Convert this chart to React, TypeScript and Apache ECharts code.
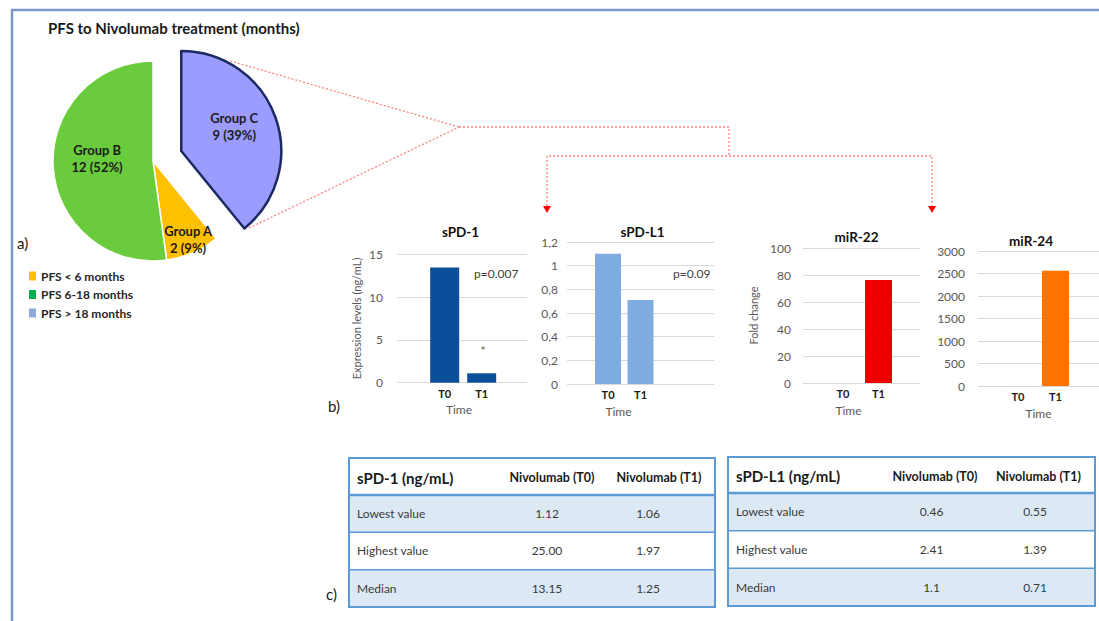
import { useEffect, useRef } from 'react';
import * as echarts from 'echarts';

// ---- Panel a): PFS groups, listed in drawing order (clockwise from 12 o'clock)
const pfsClasses = ['PFS > 18 months', 'PFS < 6 months', 'PFS 6-18 months'];
const groupNames = ['Group C', 'Group A', 'Group B'];
const patientCounts = [9, 2, 12];
const legendOrder = ['PFS < 6 months', 'PFS 6-18 months', 'PFS > 18 months'];

// ---- Panel b): bar charts
const timePoints = ['T0', 'T1'];
const spd1Levels = [13.45, 1.1];
const spdl1Levels = [1.1, 0.71];
const mir22Fold = [0, 76.3];
const mir24Fold = [1, 2560];

// ---- Panel c): summary tables
const statRows = ['Lowest value', 'Highest value', 'Median'];
const tableCols = ['Nivolumab (T0)', 'Nivolumab (T1)'];
const spd1T0 = ['1.12', '25.00', '13.15'];
const spd1T1 = ['1.06', '1.97', '1.25'];
const spdl1T0 = ['0.46', '2.41', '1.1'];
const spdl1T1 = ['0.55', '1.39', '0.71'];

const FONT = 'Lato, "Open Sans", "DejaVu Sans", sans-serif';
const pieColors = ['#9b9cfd', '#ffc000', '#6acb3c'];
const legendColors = ['#ffc000', '#00b050', '#8eaadb'];
const pieLabelShift = [[3, -7], [14, 30], [-3, -6]];
const AXIS_GREY = '#595959';
const GRID_LINE = '#d9d9d9';

function txt(x: number, y: number, text: string, o: any = {}) {
  return {
    type: 'text',
    x,
    y,
    silent: true,
    style: {
      text,
      fontFamily: FONT,
      fontSize: o.size ?? 12,
      fontWeight: o.weight ?? 'normal',
      fill: o.fill ?? '#262626',
      align: o.align ?? 'left',
      verticalAlign: 'middle',
    },
  };
}

function dashed(points: number[][]) {
  return {
    type: 'polyline',
    silent: true,
    shape: { points },
    style: { stroke: '#ff8080', lineWidth: 1.3, lineDash: [2, 2], fill: 'none' },
  };
}

function arrowHead(x: number, y: number) {
  return {
    type: 'polygon',
    silent: true,
    shape: { points: [[x - 4, y - 7], [x + 4, y - 7], [x, y]] },
    style: { fill: '#ff0000' },
  };
}

function buildTable(
  x0: number,
  y0: number,
  w: number,
  hh: number,
  rh: number,
  headX: number[],
  valX: number[],
  title: string,
  t0: string[],
  t1: string[]
) {
  const blue = '#5b9bd5';
  const els: any[] = [];
  els.push({ type: 'rect', silent: true, shape: { x: x0, y: y0, width: w, height: hh }, style: { fill: '#ffffff' } });
  statRows.forEach((r, i) => {
    const y = y0 + hh + i * rh;
    els.push({
      type: 'rect',
      silent: true,
      shape: { x: x0, y, width: w, height: rh },
      style: { fill: i % 2 === 0 ? '#dce9f5' : '#ffffff' },
    });
    els.push({
      type: 'line',
      silent: true,
      shape: { x1: x0, y1: y, x2: x0 + w, y2: y },
      style: { stroke: blue, lineWidth: i === 0 ? 2.5 : 1.5 },
    });
    els.push(txt(x0 + 8, y + rh / 2, r, { size: 12, fill: '#3a3a3a' }));
    els.push(txt(valX[0], y + rh / 2, t0[i], { size: 12, fill: '#3a3a3a', align: 'center' }));
    els.push(txt(valX[1], y + rh / 2, t1[i], { size: 12, fill: '#3a3a3a', align: 'center' }));
  });
  els.push({
    type: 'rect',
    silent: true,
    shape: { x: x0, y: y0, width: w, height: hh + 3 * rh },
    style: { fill: 'none', stroke: blue, lineWidth: 2 },
  });
  els.push(txt(x0 + 8, y0 + hh / 2 + 1, title, { size: 15, weight: 'bold', fill: '#1a1a1a' }));
  els.push(txt(headX[0], y0 + hh / 2 + 1, tableCols[0], { size: 12.5, weight: 'bold', fill: '#1a1a1a', align: 'center' }));
  els.push(txt(headX[1], y0 + hh / 2 + 1, tableCols[1], { size: 12.5, weight: 'bold', fill: '#1a1a1a', align: 'center' }));
  return els;
}

type PanelCfg = {
  values: number[];
  color: string;
  barWidth: number;
  xRange: [number, number];
  yMax: number;
  yStep: number;
  labelMargin: number;
  timeShift: number;
  yName?: string;
  yNameGap?: number;
  yFormatter?: (v: number) => string;
};

const panelCfgs: PanelCfg[] = [
  {
    values: spd1Levels,
    color: '#0b4f9b',
    barWidth: 29,
    xRange: [-1.289, 2.225],
    yMax: 15,
    yStep: 5,
    labelMargin: 14,
    timeShift: -3,
    yName: 'Expression levels (ng/mL)',
    yNameGap: 35,
  },
  {
    values: spdl1Levels,
    color: '#7eabe0',
    barWidth: 26,
    xRange: [-1.262, 3.261],
    yMax: 1.2,
    yStep: 0.2,
    labelMargin: 9,
    timeShift: -22,
    yFormatter: (v: number) => String(Math.round(v * 10) / 10).replace('.', ','),
  },
  {
    values: mir22Fold,
    color: '#ee0000',
    barWidth: 27,
    xRange: [-1.127, 2.169],
    yMax: 100,
    yStep: 20,
    labelMargin: 12,
    timeShift: -13,
    yName: 'Fold change',
    yNameGap: 44,
  },
  {
    values: mir24Fold,
    color: '#ff7300',
    barWidth: 27,
    xRange: [-1.067, 2.16],
    yMax: 3000,
    yStep: 500,
    labelMargin: 13,
    timeShift: 0,
  },
];

const gridBoxes = [
  { left: 397, top: 254.3, width: 130, height: 128.4 },
  { left: 567, top: 242, width: 147, height: 142 },
  { left: 803, top: 248, width: 117, height: 135 },
  { left: 978, top: 251, width: 121, height: 135 },
];

export default function App() {
  const ref = useRef<HTMLDivElement>(null);

  useEffect(() => {
    if (!ref.current) return;
    const chart = echarts.init(ref.current, undefined, { renderer: 'svg' });

    const xAxes = panelCfgs.map((p, i) => ({
      type: 'value',
      gridIndex: i,
      min: p.xRange[0],
      max: p.xRange[1],
      splitLine: { show: false },
      axisLine: { show: false },
      axisTick: { show: false },
      axisLabel: {
        customValues: timePoints.map((_, k) => k),
        formatter: (v: number) => timePoints[v] ?? '',
        fontSize: 11,
        fontWeight: 'bold',
        color: '#1a1a1a',
        margin: 5,
        fontFamily: FONT,
      },
      name: 'Time',
      nameLocation: 'middle',
      nameGap: 21,
      nameTextStyle: {
        fontSize: 12,
        color: AXIS_GREY,
        fontFamily: FONT,
        padding: p.timeShift < 0 ? [0, -2 * p.timeShift, 0, 0] : [0, 0, 0, 2 * p.timeShift],
      },
    }));

    const yAxes = panelCfgs.map((p, i) => ({
      type: 'value',
      gridIndex: i,
      min: 0,
      max: p.yMax,
      interval: p.yStep,
      axisLine: { show: false },
      axisTick: { show: false },
      splitLine: { lineStyle: { color: GRID_LINE, width: 1 } },
      axisLabel: {
        color: AXIS_GREY,
        fontSize: 12,
        margin: p.labelMargin,
        fontFamily: FONT,
        formatter: p.yFormatter ?? ((v: number) => String(v)),
      },
      name: p.yName ?? '',
      nameLocation: 'middle',
      nameGap: p.yNameGap ?? 30,
      nameTextStyle: { fontSize: 11, color: AXIS_GREY, fontFamily: FONT },
    }));

    const barSeries = panelCfgs.map((p, i) => ({
      type: 'bar',
      xAxisIndex: i,
      yAxisIndex: i,
      barWidth: p.barWidth,
      itemStyle: { color: p.color },
      emphasis: { disabled: true },
      data: p.values.map((v, k) => [k, v]),
    }));

    const graphics: any[] = [
      // figure frame
      {
        type: 'polyline',
        silent: true,
        shape: { points: [[12, 621], [12, 10], [1099, 10]] },
        style: { stroke: '#7d99cc', lineWidth: 2.5, fill: 'none' },
      },
      txt(48, 28, 'PFS to Nivolumab treatment (months)', { size: 15, weight: 'bold', fill: '#1a1a1a' }),
      txt(17, 243, 'a)', { size: 15, fill: '#1a1a1a' }),
      txt(328, 406, 'b)', { size: 15, fill: '#1a1a1a' }),
      txt(326, 594, 'c)', { size: 15, fill: '#1a1a1a' }),
      // chart titles
      txt(460.5, 232, 'sPD-1', { size: 13.5, weight: 'bold', fill: '#111', align: 'center' }),
      txt(642.5, 232, 'sPD-L1', { size: 13.5, weight: 'bold', fill: '#111', align: 'center' }),
      txt(856.5, 237, 'miR-22', { size: 13.5, weight: 'bold', fill: '#111', align: 'center' }),
      txt(1031, 241, 'miR-24', { size: 13.5, weight: 'bold', fill: '#111', align: 'center' }),
      // statistics
      txt(474, 273, 'p=0.007', { size: 12, fill: '#404040' }),
      txt(673, 273, 'p=0.09', { size: 12, fill: '#404040' }),
      txt(483, 350, '*', { size: 12, fill: '#595959', align: 'center' }),
      // connectors from Group C to the panels
      dashed([[230, 61], [459, 127]]),
      dashed([[249, 228], [459, 127]]),
      dashed([[459, 127], [729, 127], [729, 156]]),
      dashed([[547, 206], [547, 156], [932, 156], [932, 206]]),
      arrowHead(547, 213),
      arrowHead(932, 213),
      ...buildTable(349, 458, 366, 37, 37.33, [552, 659], [547, 648], 'sPD-1 (ng/mL)', spd1T0, spd1T1),
      ...buildTable(728, 457, 367, 36, 37.67, [935, 1038.5], [931.5, 1035], 'sPD-L1 (ng/mL)', spdl1T0, spdl1T1),
    ];

    chart.setOption({
      animation: false,
      backgroundColor: '#ffffff',
      textStyle: { fontFamily: FONT },
      grid: gridBoxes.map((g) => ({ ...g, containLabel: false })),
      xAxis: xAxes,
      yAxis: yAxes,
      legend: {
        orient: 'vertical',
        left: 24,
        top: 265,
        itemWidth: 7,
        itemHeight: 9,
        itemGap: 6.5,
        selectedMode: false,
        textStyle: { fontSize: 12, fontWeight: 'bold', color: '#262626', fontFamily: FONT },
        data: legendOrder.map((n, i) => ({
          name: n,
          icon: 'rect',
          itemStyle: { color: legendColors[i], borderWidth: 0, borderColor: legendColors[i] },
        })),
      },
      series: [
        {
          type: 'pie',
          center: [153, 161],
          radius: 100,
          startAngle: 90,
          clockwise: true,
          selectedMode: 'single',
          selectedOffset: 30,
          percentPrecision: 0,
          avoidLabelOverlap: false,
          emphasis: { disabled: true },
          itemStyle: { borderColor: '#ffffff', borderWidth: 1.5 },
          select: { itemStyle: { color: pieColors[0], borderColor: '#1c2a64', borderWidth: 2.5 } },
          label: {
            position: 'inside',
            fontSize: 13,
            fontWeight: 'bold',
            color: '#1a1a1a',
            lineHeight: 17,
            fontFamily: FONT,
            formatter: (p: any) => `${groupNames[p.dataIndex]}\n${p.value} (${p.percent}%)`,
          },
          labelLine: { show: false },
          labelLayout: (p: any) => ({ dx: pieLabelShift[p.dataIndex][0], dy: pieLabelShift[p.dataIndex][1] }),
          data: patientCounts.map((v, i) => ({
            name: pfsClasses[i],
            value: v,
            selected: i === 0,
            itemStyle:
              i === 0
                ? { color: pieColors[i], borderColor: '#1c2a64', borderWidth: 2.5 }
                : { color: pieColors[i] },
          })),
        },
        ...barSeries,
      ],
      graphic: graphics,
    });

    return () => chart.dispose();
  }, []);

  return (
    <div
      ref={ref}
      style={{ position: 'fixed', left: 0, top: 0, width: 1099, height: 621, background: '#fff' }}
    />
  );
}
